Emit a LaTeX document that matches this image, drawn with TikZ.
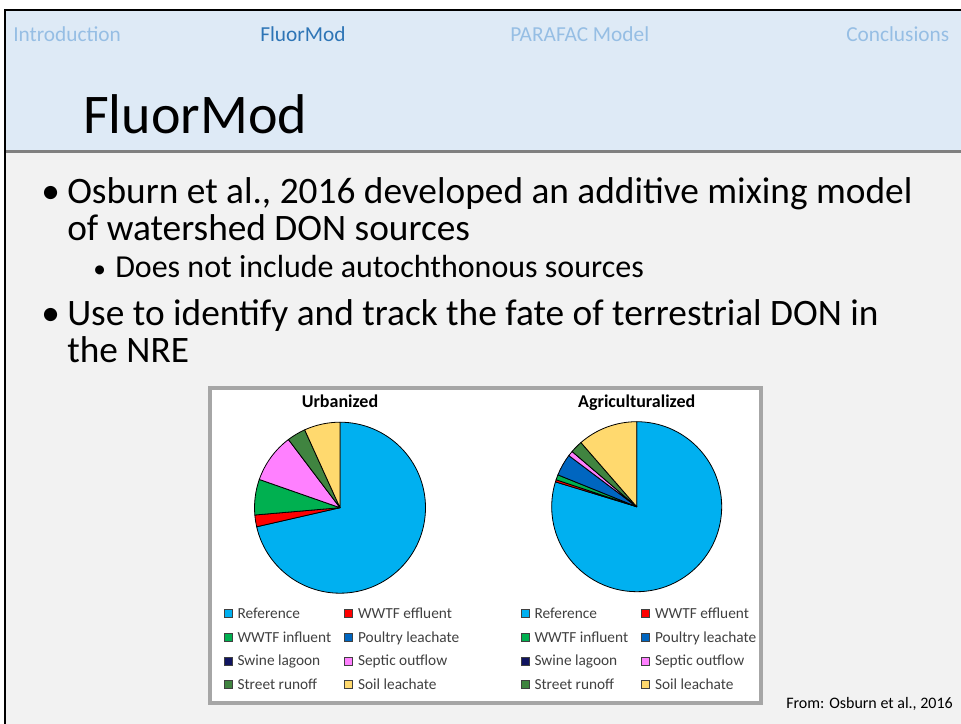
\documentclass[tikz,border=0pt]{standalone}
\usepackage{fontspec}
\setmainfont{Carlito}
\usepackage{tikz}

\definecolor{headbg}{RGB}{222,234,246}
\definecolor{bodybg}{RGB}{242,242,242}
\definecolor{navoff}{RGB}{150,190,228}
\definecolor{navon}{RGB}{46,117,182}
\definecolor{boxgray}{RGB}{166,166,166}
\definecolor{legtxt}{RGB}{64,64,64}
\definecolor{refc}{RGB}{0,176,240}
\definecolor{effc}{RGB}{255,0,0}
\definecolor{inflc}{RGB}{0,176,80}
\definecolor{poulc}{RGB}{0,102,192}
\definecolor{swinc}{RGB}{16,20,96}
\definecolor{septc}{RGB}{255,128,255}
\definecolor{strc}{RGB}{64,132,64}
\definecolor{soilc}{RGB}{255,217,110}

\tikzset{
  navtext/.style={anchor=base west, inner sep=0pt, text=navoff, font=\fontsize{16}{19}\selectfont},
  bodytext/.style={anchor=base west, inner sep=0pt, font=\fontsize{28}{33}\selectfont},
  subtext/.style={anchor=base west, inner sep=0pt, font=\fontsize{24}{29}\selectfont},
  pietitle/.style={anchor=base, inner sep=0pt, font=\bfseries\fontsize{13.5}{16}\selectfont},
  legtext/.style={anchor=base west, inner sep=0pt, text=legtxt, font=\fontsize{11.5}{14}\selectfont},
  legbox/.style={draw=legtxt, line width=0.4pt, minimum size=6pt, inner sep=0pt},
  slice/.style={draw=black, line width=0.6pt, line join=round}
}

\begin{document}
\begin{tikzpicture}[x=0.75pt, y=0.75pt]
\useasboundingbox (0,0) rectangle (961,-724);
\fill[white] (0,0) rectangle (961,-724);
% slide background
\fill[headbg] (5,-10) rectangle (961,-151);
\fill[bodybg] (5,-151) rectangle (961,-724);
\draw[gray, line width=2.2pt] (5,-151.5) -- (961,-151.5);
\draw[black, line width=2.2pt] (5,-724) -- (5,-10) -- (961,-10);

% navigation
\node[navtext] (navintro) at (13,-42) {Introduction};
\node[navtext, text=navon] (navfluor) at (260,-42) {FluorMod};
\node[navtext] (navpara) at (510,-42) {PARAFAC Model};
\node[navtext] (navconc) at (846,-42) {Conclusions};

% title
\node[anchor=base west, inner sep=0pt, font=\fontsize{42}{50}\selectfont] (title) at (83,-133) {FluorMod};

% bullets
\node[bodytext] (dot1) at (41,-203) {•};
\node[bodytext] (b1a) at (67,-203) {Osburn et al., 2016 developed an additive mixing model};
\node[bodytext] (b1b) at (67,-240) {of watershed DON sources};
\node[subtext, font=\fontsize{19}{23}\selectfont] (dot2) at (93,-277) {•};
\node[subtext] (s1) at (115,-277) {Does not include autochthonous sources};
\node[bodytext] (dot3) at (41,-325) {•};
\node[bodytext] (b2a) at (67,-325) {Use to identify and track the fate of terrestrial DON in};
\node[bodytext] (b2b) at (67,-362) {the NRE};

% figure
\filldraw[fill=white, draw=boxgray, line width=3pt] (209.5,-388) rectangle (760.5,-702.5);
\node[pietitle] (urbt) at (340,-407) {Urbanized};
\node[pietitle] (agrt) at (636.7,-407) {Agriculturalized};
\coordinate (urbc) at (340,-507.7);
\coordinate (agrc) at (636.7,-506.7);
\foreach \a/\b/\col in {90/-167.1/refc, -167.1/-175.1/effc, -175.1/-199.3/inflc,
    -199.3/-232.9/septc, -232.9/-245.6/strc, -245.6/-270/soilc}
  \filldraw[slice, fill=\col] (urbc) -- ++(\a:85.5) arc[start angle=\a, end angle=\b, radius=85.5] -- cycle;
\foreach \a/\b/\col in {90/-197/refc, -197/-198.5/effc, -198.5/-202/inflc, -202/-217/poulc,
    -217/-220.5/septc, -220.5/-229/strc, -229/-270/soilc}
  \filldraw[slice, fill=\col] (agrc) -- ++(\a:85) arc[start angle=\a, end angle=\b, radius=85] -- cycle;

% legends
\foreach \ox/\pn in {224/u, 521/a}
  \foreach \lab/\col/\i/\j in {Reference/refc/0/0, WWTF effluent/effc/1/0,
      WWTF influent/inflc/0/1, Poultry leachate/poulc/1/1,
      Swine lagoon/swinc/0/2, Septic outflow/septc/1/2,
      Street runoff/strc/0/3, Soil leachate/soilc/1/3} {
    \node[legbox, fill=\col] (sq-\pn-\i-\j) at ({\ox+4+120.5*\i}, {-613.3-23.8*\j}) {};
    \node[legtext] (lg-\pn-\i-\j) at ({\ox+13.3+120.5*\i}, {-618.3-23.8*\j}) {\lab};
  }

\node[anchor=base west, inner sep=0pt, font=\fontsize{12}{14}\selectfont] (src) at (786,-708) {From: Osburn et al., 2016};
\end{tikzpicture}
\end{document}
